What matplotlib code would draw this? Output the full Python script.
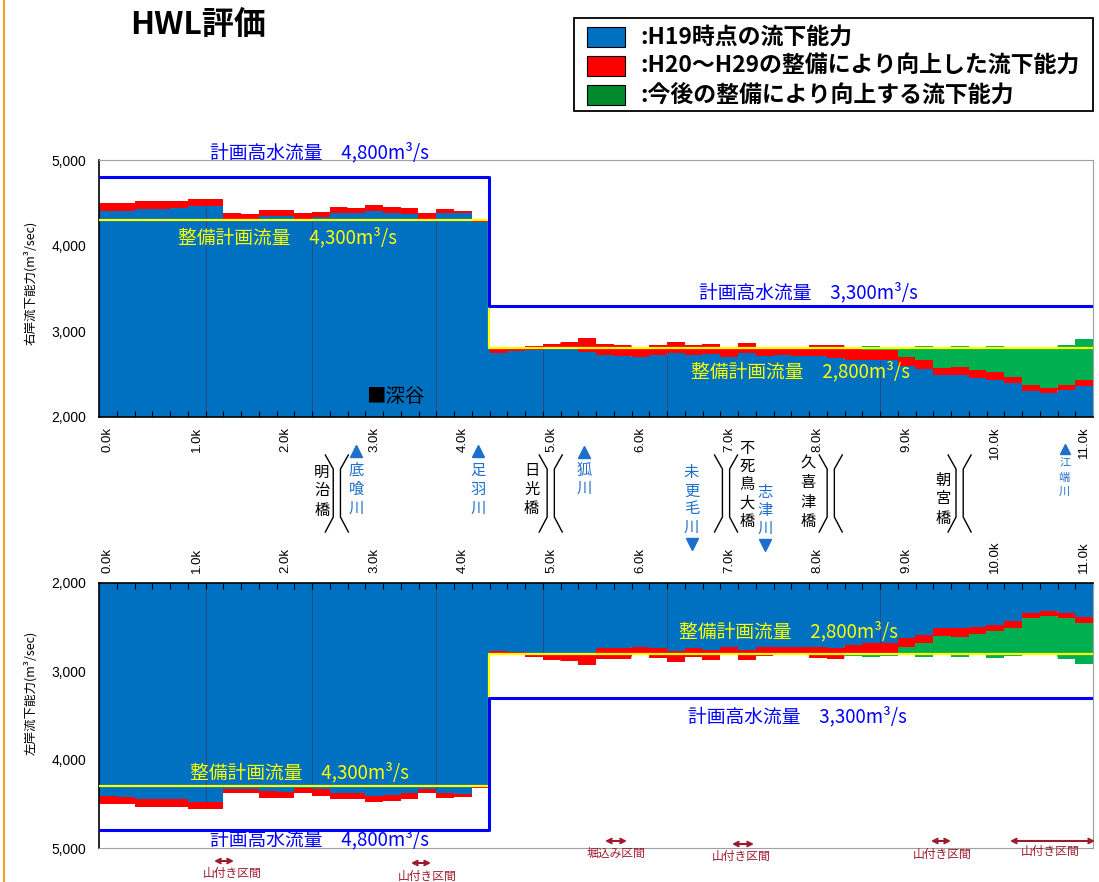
import numpy as np
import matplotlib
matplotlib.use("Agg")
import matplotlib.pyplot as plt
from matplotlib.patches import Rectangle

plt.rcParams["font.family"] = ["Noto Sans CJK JP", "DejaVu Sans"]

W, H = 1099, 882
BLUE, RED, GREEN = "#0070c0", "#ff0000", "#00b050"
LEG_GREEN = "#008a2e"
HWL_BLUE = "#0000ff"
PLAN_YELLOW = "#ffff00"
RIVER_BLUE = "#1e6fcc"
SECT_RED = "#9c1a2e"
TICKFONT = ["Liberation Sans", "DejaVu Sans"]

# ── data: 0.2k stations, capacity (m3/s) ─────────────────────────────────────
STATIONS = [0.0, 0.2, 0.4, 0.6, 0.8, 1.0, 1.2, 1.4, 1.6, 1.8,
            2.0, 2.2, 2.4, 2.6, 2.8, 3.0, 3.2, 3.4, 3.6, 3.8,
            4.0, 4.2, 4.4, 4.6, 4.8, 5.0, 5.2, 5.4, 5.6, 5.8,
            6.0, 6.2, 6.4, 6.6, 6.8, 7.0, 7.2, 7.4, 7.6, 7.8,
            8.0, 8.2, 8.4, 8.6, 8.8, 9.0, 9.2, 9.4, 9.6, 9.8,
            10.0, 10.2, 10.4, 10.6, 10.8, 11.0]

# right bank (右岸)
R_H19 = [4401, 4409, 4432, 4432, 4436, 4459, 4467, 4312, 4312, 4343,
         4343, 4312, 4331, 4378, 4378, 4401, 4385, 4370, 4316, 4381,
         4381, 4273, 2749, 2769, 2780, 2788, 2788, 2761, 2718, 2714,
         2695, 2718, 2749, 2722, 2734, 2695, 2742, 2710, 2718, 2710,
         2710, 2683, 2671, 2664, 2664, 2593, 2566, 2488, 2488, 2461,
         2437, 2398, 2305, 2281, 2312, 2359]
R_H29 = [4494, 4502, 4525, 4517, 4525, 4548, 4548, 4378, 4370, 4420,
         4420, 4378, 4393, 4447, 4440, 4471, 4451, 4436, 4378, 4424,
         4409, 4312, 2796, 2790, 2823, 2851, 2878, 2917, 2847, 2839,
         2812, 2839, 2878, 2835, 2851, 2800, 2859, 2808, 2804, 2800,
         2835, 2839, 2800, 2780, 2780, 2702, 2663, 2574, 2578, 2546,
         2527, 2468, 2371, 2344, 2371, 2430]

# left bank (左岸)
L_H19 = [4412, 4419, 4442, 4445, 4445, 4475, 4475, 4330, 4330, 4356,
         4363, 4326, 4337, 4382, 4382, 4408, 4401, 4382, 4337, 4382,
         4390, 4307, 2767, 2785, 2793, 2804, 2793, 2793, 2737, 2737,
         2719, 2737, 2767, 2737, 2756, 2719, 2756, 2726, 2730, 2730,
         2730, 2737, 2700, 2682, 2682, 2619, 2589, 2515, 2515, 2497,
         2471, 2430, 2338, 2319, 2341, 2386]
L_H29 = [4501, 4505, 4539, 4531, 4531, 4557, 4557, 4382, 4375, 4438,
         4438, 4382, 4412, 4449, 4449, 4483, 4464, 4445, 4382, 4438,
         4419, 4326, 2796, 2818, 2837, 2867, 2885, 2930, 2856, 2856,
         2818, 2848, 2893, 2841, 2870, 2818, 2870, 2826, 2818, 2804,
         2848, 2856, 2793, 2793, 2793, 2722, 2682, 2596, 2608, 2578,
         2545, 2504, 2397, 2375, 2397, 2449]

# future improvement (今後の整備)
FUT_STATIONS = [8.4, 8.6, 8.8, 9.0, 9.2, 9.4, 9.6, 9.8, 10.0, 10.2, 10.4, 10.6, 10.8, 11.0]
R_FUT = [2810, 2827, 2812, 2812, 2827, 2800, 2831, 2800, 2831, 2820, 2800, 2800, 2839, 2905]
L_FUT = [2830, 2841, 2830, 2818, 2841, 2818, 2841, 2818, 2848, 2830, 2818, 2818, 2859, 2915]

HWL_PLAN = [(-0.1, 4.3, 4800), (4.3, 11.1, 3300)]     # 計画高水流量
SEIBI_PLAN = [(-0.1, 4.3, 4300), (4.3, 11.1, 2800)]   # 整備計画流量
DIVIDERS = [1.1, 2.3, 3.7, 4.9, 6.3, 8.7]

XLABEL_KM = [0, 1, 2, 3, 4, 5, 6, 7, 8, 9, 10, 11]
XLABELS = ["0.0k", "1.0k", "2.0k", "3.0k", "4.0k", "5.0k",
           "6.0k", "7.0k", "8.0k", "9.0k", "10.0k", "11.0k"]
YTICKS = [2000, 3000, 4000, 5000]
YLABELS = ["2,000", "3,000", "4,000", "5,000"]

# text in the charts: (text, km, value, color)
TOP_TEXTS = [("計画高水流量　4,800m³/s", 2.38, 5082, HWL_BLUE),
             ("整備計画流量　4,300m³/s", 2.02, 4090, PLAN_YELLOW),
             ("計画高水流量　3,300m³/s", 7.89, 3445, HWL_BLUE),
             ("整備計画流量　2,800m³/s", 7.80, 2525, PLAN_YELLOW)]
BOT_TEXTS = [("整備計画流量　2,800m³/s", 7.67, 2555, PLAN_YELLOW),
             ("計画高水流量　3,300m³/s", 7.77, 3517, HWL_BLUE),
             ("整備計画流量　4,300m³/s", 2.16, 4151, PLAN_YELLOW),
             ("計画高水流量　4,800m³/s", 2.38, 4910, HWL_BLUE)]

# bridges: (name, text km, first char y px, pitch, symbol km)
BRIDGES = [("明治橋", 2.41, 472, 19, 2.58),
           ("日光橋", 4.775, 470, 19, 4.99),
           ("不死鳥大橋", 7.205, 448, 18.3, 6.965),
           ("久喜津橋", 7.89, 463, 19.5, 8.145),
           ("朝宮橋", 9.41, 480, 19, 9.597)]
# tributaries: (name, km, flow mark, first char y px, pitch, fontsize)
RIVERS = [("底喰川", 2.80, "up", 470, 19, 11),
          ("足羽川", 4.17, "up", 470, 19, 11),
          ("狐川", 5.365, "up", 470, 18.5, 11),
          ("未更毛川", 6.577, "down", 473, 18, 11),
          ("志津川", 7.404, "down", 492, 18, 11),
          ("江端川", 10.78, "up", 463, 14.5, 8)]
# sections: (label, km from, km to, arrow y px, label km, label y px)
SECTIONS = [("山付き区間", 1.196, 1.421, 861, 1.40, 873),
            ("山付き区間", 3.415, 3.641, 863, 3.60, 876),
            ("堀込み区間", 5.601, 5.849, 841, 5.72, 853),
            ("山付き区間", 7.032, 7.280, 844, 7.13, 856),
            ("山付き区間", 9.274, 9.500, 841, 9.40, 854),
            ("山付き区間", 10.164, 11.123, 841, 10.62, 851)]

LEGEND = [(BLUE, ":H19時点の流下能力"),
          (RED, ":H20～H29の整備により向上した流下能力"),
          (LEG_GREEN, ":今後の整備により向上する流下能力")]


def step_xy(sections):
    xs, ys = [], []
    for x0, x1, v in sections:
        xs += [x0, x1]
        ys += [v, v]
    return xs, ys


def step_fill(ax, st, lo, hi, color):
    # one polygon per layer, 0.2k wide steps centred on each station
    xe, ylo, yhi = [], [], []
    for s, a, b in zip(st, lo, hi):
        xe += [s - 0.1, s + 0.1]
        ylo += [a, a]
        yhi += [b, b]
    ax.fill_between(xe, ylo, yhi, color=color, lw=0, antialiased=False, zorder=1)


def draw_bank(ax, h19, h29, fut, texts):
    h19 = np.array(h19, float)
    h29 = np.array(h29, float)
    step_fill(ax, STATIONS, np.full(len(STATIONS), 2000.0), h19, BLUE)
    step_fill(ax, STATIONS, h19, h29, RED)
    idx = [STATIONS.index(s) for s in FUT_STATIONS]
    step_fill(ax, FUT_STATIONS, h29[idx], fut, GREEN)
    for b in DIVIDERS:
        i = int(round((b - 0.1) / 0.2))
        ax.vlines(b, 2000, min(h19[i], h19[i + 1]), color="#3c3c64", lw=0.6,
                  alpha=0.8, zorder=1.5)
    xs, ys = step_xy(SEIBI_PLAN)
    ax.plot(xs, ys, color=PLAN_YELLOW, lw=1.6, zorder=3)
    xs, ys = step_xy(HWL_PLAN)
    ax.plot(xs, ys, color=HWL_BLUE, lw=2.2, zorder=4)
    for t, xk, v, c in texts:
        ax.text(xk, v, t, color=c, fontsize=13.5, ha="center", va="center",
                clip_on=False, zorder=6)
    ax.set_xlim(-0.1, 11.1)
    ax.set_xticks(XLABEL_KM)
    ax.set_xticklabels(XLABELS, rotation=90, fontfamily=TICKFONT, fontsize=9.5)
    ax.set_xticks(np.arange(0.1, 11.15, 0.2), minor=True)
    ax.tick_params(axis="x", which="major", length=0, pad=7)
    ax.tick_params(axis="x", which="minor", direction="in", length=4, width=0.8, color="black")
    ax.set_yticks(YTICKS)
    ax.set_yticklabels(YLABELS, fontfamily=TICKFONT, fontsize=10)
    ax.tick_params(axis="y", length=0, pad=9)


fig = plt.figure(figsize=(W / 100, H / 100), dpi=100)

# pixel overlay for title, legend, axis titles
pix = fig.add_axes([0, 0, 1, 1])
pix.set_xlim(0, W)
pix.set_ylim(H, 0)
pix.axis("off")
pix.plot([3.5, 3.5], [0, H], color="#f7a11a", lw=1.5)
pix.text(130, 25, "HWL評価", fontsize=23, fontweight="bold", ha="left", va="center")
pix.add_patch(Rectangle((574, 18), 519, 93, fill=False, ec="black", lw=1.3))
for k, (c, lbl) in enumerate(LEGEND):
    y = 37 + 29 * k
    pix.add_patch(Rectangle((587, y - 10), 38, 20, fc=c, ec="black", lw=0.8))
    pix.text(640, y, lbl, fontsize=16.5, fontweight="bold", ha="left", va="center")
pix.text(30, 283, "右岸流下能力(m³/sec)", rotation=90, fontsize=9, ha="center", va="center")
pix.text(30, 693, "左岸流下能力(m³/sec)", rotation=90, fontsize=9, ha="center", va="center")

# ── right bank (top) ──
ax1 = fig.add_axes([99 / W, 1 - 417 / H, 994 / W, 257 / H])
draw_bank(ax1, R_H19, R_H29, R_FUT, TOP_TEXTS)
ax1.set_ylim(2000, 5000)
ax1.text(2.91, 2241, "■深谷", fontsize=14, ha="left", va="center", color="black")
for s in ["top", "right"]:
    ax1.spines[s].set_color("#a0a0a0")
for s in ["bottom", "left"]:
    ax1.spines[s].set_linewidth(1.2)

# ── left bank (bottom), inverted ──
ax2 = fig.add_axes([99 / W, 1 - 848 / H, 994 / W, 265 / H])
draw_bank(ax2, L_H19, L_H29, L_FUT, BOT_TEXTS)
ax2.set_ylim(5000, 2000)
ax2.xaxis.tick_top()
ax2.tick_params(axis="x", which="major", length=0, pad=7)
for s in ["bottom", "right"]:
    ax2.spines[s].set_color("#a0a0a0")
for s in ["top", "left"]:
    ax2.spines[s].set_linewidth(1.2)

# ── annotations between / below charts (x in km, y in px) ──
ann = fig.add_axes([99 / W, 0, 994 / W, 1])
ann.set_xlim(-0.1, 11.1)
ann.set_ylim(H, 0)
ann.axis("off")
ann.set_zorder(5)

px_km = 1 / 88.75
for name, xk, y0, pitch, bx in BRIDGES:
    for i, ch in enumerate(name):
        ann.text(xk, y0 + i * pitch, ch, fontsize=11, ha="center", va="center", color="black")
    din, dout = 3.6 * px_km, 11.5 * px_km
    ys = [455, 469, 517, 532]
    ann.plot([bx - dout, bx - din, bx - din, bx - dout], ys, color="black", lw=1.0)
    ann.plot([bx + dout, bx + din, bx + din, bx + dout], ys, color="black", lw=1.0)

for name, xk, flow, y0, pitch, fs in RIVERS:
    for i, ch in enumerate(name):
        ann.text(xk, y0 + i * pitch, ch, fontsize=fs, ha="center", va="center", color=RIVER_BLUE)
    ms = 9 if fs > 9 else 6.5
    if flow == "up":
        ann.plot(xk, y0 - pitch, marker="^", ms=ms, color=RIVER_BLUE, ls="none")
    else:
        ann.plot(xk, y0 + len(name) * pitch - 1, marker="v", ms=ms, color=RIVER_BLUE, ls="none")

for lbl, x0, x1, ya, xl, yl in SECTIONS:
    ann.annotate("", xy=(x1, ya), xytext=(x0, ya), annotation_clip=False,
                 arrowprops=dict(arrowstyle="<->", color=SECT_RED, lw=1.5,
                                 mutation_scale=8, shrinkA=0, shrinkB=0))
    ann.text(xl, yl, lbl, fontsize=8.5, ha="center", va="center", color=SECT_RED)

fig.savefig("out.png", dpi=100)
